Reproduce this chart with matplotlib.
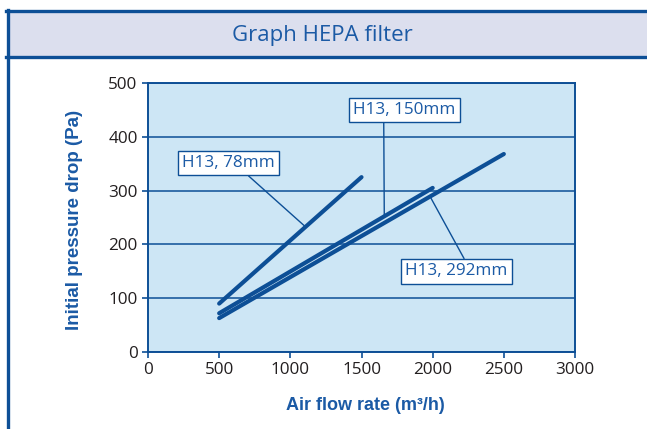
import matplotlib
matplotlib.use("Agg")
import matplotlib.pyplot as plt
from matplotlib.patches import Rectangle
from matplotlib.lines import Line2D
from matplotlib import font_manager

# ---- data ----
series_names = ["H13, 78mm", "H13, 150mm", "H13, 292mm"]
flow_78 = [500, 1500]
drop_78 = [90, 325]
flow_150 = [500, 2000]
drop_150 = [72, 305]
flow_292 = [500, 2500]
drop_292 = [63, 368]
x_ticks = [0, 500, 1000, 1500, 2000, 2500, 3000]
y_ticks = [0, 100, 200, 300, 400, 500]

# label positions (data coords): text centre, arrow target, leader start (relpos)
label_78 = (565, 351, 1101, 234, (0.66, 0.0))
label_150 = (1800, 450, 1660, 254, (0.3, 0.0))
label_292 = (2167, 150, 1988, 286, (0.6, 1.0))

BLUE = "#0d4f96"
TXT_BLUE = "#1b5aa5"
BG = "#cde6f5"
HEAD = "#dcdfee"

names = {f.name for f in font_manager.fontManager.ttflist}
narrow = "Liberation Sans Narrow" if "Liberation Sans Narrow" in names else "Liberation Sans"
body = "Open Sans"

fig = plt.figure(figsize=(6.47, 4.29), dpi=100)
W, H = 647, 429

def fx(px):
    return px / W

def fy(py):
    return 1 - py / H

# header band
fig.add_artist(Rectangle((fx(7), fy(57)), 1 - fx(7), fy(10) - fy(57),
                         transform=fig.transFigure, facecolor=HEAD, edgecolor="none", zorder=0))
# frame lines
fig.add_artist(Line2D([fx(7.5), fx(7.5)], [0, fy(10)], transform=fig.transFigure, color=BLUE, lw=2.4))
fig.add_artist(Line2D([fx(6.3), 1], [fy(10.5), fy(10.5)], transform=fig.transFigure, color=BLUE, lw=2.4))
fig.add_artist(Line2D([fx(6.3), 1], [fy(56.5), fy(56.5)], transform=fig.transFigure, color=BLUE, lw=2.4))
fig.text(fx(322), fy(35), "Graph HEPA filter", ha="center", va="center",
         fontsize=16, color=TXT_BLUE, family=body)

ax = fig.add_axes([fx(148), fy(352), fx(575) - fx(148), fy(83) - fy(352)])
ax.set_facecolor(BG)
ax.set_xlim(0, 3000)
ax.set_ylim(0, 500)
ax.set_xticks(x_ticks)
ax.set_yticks(y_ticks)
ax.set_xticklabels([str(v) for v in x_ticks], family=body, fontsize=12.3, color="#231f20")
ax.set_yticklabels([str(v) for v in y_ticks], family=body, fontsize=12.3, color="#231f20")
ax.tick_params(axis="both", color=BLUE, length=4.5, width=1.2, pad=3)
for s in ax.spines.values():
    s.set_color(BLUE)
    s.set_linewidth(1.4)
ax.yaxis.grid(True, color=BLUE, lw=1.1)
ax.set_axisbelow(True)

for xs, ys in [(flow_78, drop_78), (flow_150, drop_150), (flow_292, drop_292)]:
    ax.plot(xs, ys, color=BLUE, lw=3.0, solid_capstyle="round", zorder=3)

for name, (tx, ty, ax_, ay_, rp) in zip(series_names, [label_78, label_150, label_292]):
    ax.annotate(name, xy=(ax_, ay_), xytext=(tx, ty), ha="center", va="center",
                fontsize=12.3, color=TXT_BLUE, family=body,
                bbox=dict(boxstyle="square,pad=0.25", fc="white", ec=BLUE, lw=1.0),
                arrowprops=dict(arrowstyle="-", color=BLUE, lw=1.0, shrinkA=0, shrinkB=0,
                                relpos=rp),
                zorder=4)

ax.set_xlabel("Air flow rate (m³/h)", family=narrow, fontweight="bold", fontsize=13,
              color=TXT_BLUE, va="center")
ax.set_ylabel("Initial pressure drop (Pa)", family=narrow, fontweight="bold", fontsize=13.5,
              color=TXT_BLUE, va="center")
ax.xaxis.set_label_coords(0.509, -0.200)
ax.yaxis.set_label_coords(-0.171, 0.49)

fig.savefig("out.png", dpi=100)
